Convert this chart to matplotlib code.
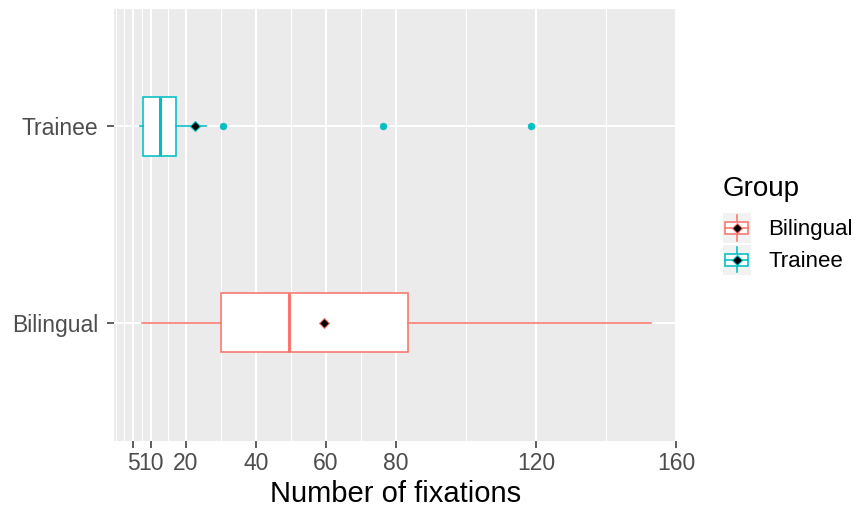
import matplotlib
matplotlib.use('Agg')
import matplotlib.pyplot as plt
from matplotlib.legend_handler import HandlerBase
from matplotlib.patches import Rectangle
from matplotlib.lines import Line2D

plt.rcParams['font.family'] = ['Liberation Sans', 'DejaVu Sans']

# values
groups = ['Bilingual', 'Trainee']
colors = ['#F8766D', '#00BFC4']
whislo = [7.5, 6.9]
q1 = [30.0, 7.8]
med = [49.4, 12.8]
q3 = [83.5, 17.2]
whishi = [152.8, 25.9]
means = [59.6, 22.6]
fliers = [[], [30.7, 76.2, 118.6]]

major_breaks = [5, 10, 20, 40, 60, 80, 120, 160]
minor_breaks = [0, 2.5, 7.5, 15, 30, 50, 70, 100, 140]

fig = plt.figure(figsize=(8.59, 5.08), dpi=100)
ax = fig.add_axes([0.133, 0.1325, 0.6545, 0.8505])
ax.set_facecolor('#EBEBEB')
for s in ax.spines.values():
    s.set_visible(False)

stats = []
for i, g in enumerate(groups):
    stats.append(dict(label=g, whislo=whislo[i], q1=q1[i], med=med[i], q3=q3[i],
                      whishi=whishi[i], mean=means[i], fliers=fliers[i]))

bp = ax.bxp(stats, positions=[1, 2], widths=0.3, orientation='horizontal',
            patch_artist=True, showmeans=True, showcaps=False, zorder=3)
for i, c in enumerate(colors):
    bp['boxes'][i].set(facecolor='white', edgecolor=c, linewidth=1.15)
    bp['medians'][i].set(color=c, linewidth=2.2)
    for w in bp['whiskers'][2 * i:2 * i + 2]:
        w.set(color=c, linewidth=1.15)
    bp['fliers'][i].set(marker='o', markerfacecolor=c, markeredgecolor=c,
                        markersize=5.0, markeredgewidth=0.3)
    bp['means'][i].set(marker='D', markerfacecolor='black', markeredgecolor=c,
                       markersize=5.2, markeredgewidth=0.8)

# ggplot-style 5% expansion of the data range
lo = min(whislo + [v for f in fliers for v in f])
hi = max(whishi + [v for f in fliers for v in f])
pad = (hi - lo) * 0.05
ax.set_xlim(lo - pad, hi + pad)
ax.set_ylim(0.4, 2.6)

ax.set_xticks(major_breaks)
ax.set_xticks(minor_breaks, minor=True)
ax.set_yticks([1, 2])
ax.set_yticklabels(groups)
ax.grid(True, which='major', color='white', linewidth=1.45, zorder=0)
ax.grid(True, which='minor', axis='x', color='white', linewidth=0.72, zorder=0)
ax.set_axisbelow(True)
ax.tick_params(which='major', length=5, width=1.1, color='#333333',
               labelcolor='#4D4D4D', labelsize=16.5)
ax.tick_params(axis='x', pad=3)
ax.tick_params(axis='y', pad=6.5)
ax.tick_params(which='minor', length=0)
ax.set_xlabel('Number of fixations', fontsize=21, labelpad=4)


class BoxKey(HandlerBase):
    def __init__(self, color):
        super().__init__()
        self.color = color

    def create_artists(self, legend, orig_handle, xdescent, ydescent,
                       width, height, fontsize, trans):
        x0, y0 = -xdescent, -ydescent
        cx, cy = x0 + width / 2, y0 + height / 2
        bg = Rectangle((x0, y0), width, height, facecolor='#F2F2F2',
                       edgecolor='none', transform=trans)
        whisk = Line2D([cx, cx], [y0 + height * 0.08, y0 + height * 0.92],
                       color=self.color, linewidth=1.15, transform=trans)
        box = Rectangle((x0 + width * 0.09, y0 + height * 0.3), width * 0.82,
                        height * 0.4, facecolor='white', edgecolor=self.color,
                        linewidth=1.15, transform=trans)
        medl = Line2D([x0 + width * 0.09, x0 + width * 0.91], [cy, cy],
                      color=self.color, linewidth=1.15, transform=trans)
        dia = Line2D([cx], [cy], marker='D', markerfacecolor='black',
                     markeredgecolor=self.color, markersize=5.6,
                     markeredgewidth=0.8, transform=trans)
        return [bg, whisk, box, medl, dia]


fig.text(722.5 / 859, 1 - 196.5 / 508, 'Group', fontsize=20,
         ha='left', va='baseline')
handles = [Rectangle((0, 0), 1, 1) for _ in groups]
leg = fig.legend(handles, groups, loc='upper left',
                 bbox_to_anchor=(722.7 / 859, 1 - 213 / 508), frameon=False,
                 fontsize=16, handlelength=1.26, handleheight=1.7,
                 handletextpad=0.78, labelspacing=0.07, borderpad=0,
                 borderaxespad=0,
                 handler_map={h: BoxKey(c) for h, c in zip(handles, colors)})

fig.savefig('out.png', dpi=100)
